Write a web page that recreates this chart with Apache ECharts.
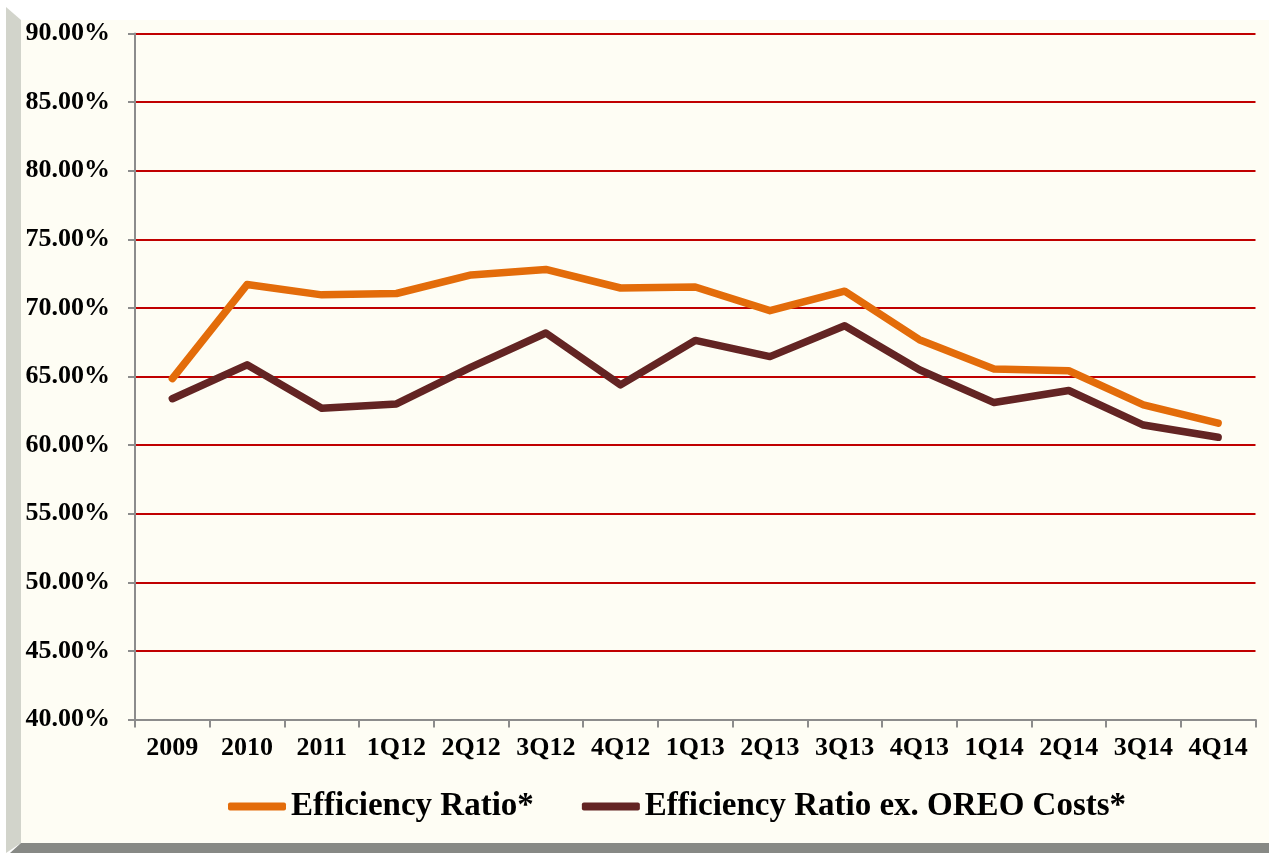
<!DOCTYPE html>
<html>
<head>
<meta charset="utf-8">
<script src="https://cdn.jsdelivr.net/npm/echarts@6/dist/echarts.min.js"></script>
<style>
  html, body { margin: 0; padding: 0; background: #ffffff; }
  #chart { width: 1269px; height: 853px; }
</style>
</head>
<body>
<div id="chart"></div>
<script>
// Periods on the category axis
const periods = ['2009', '2010', '2011', '1Q12', '2Q12', '3Q12', '4Q12', '1Q13',
  '2Q13', '3Q13', '4Q13', '1Q14', '2Q14', '3Q14', '4Q14'];

// Efficiency ratio, percent
const efficiencyRatio = [64.85, 71.70, 70.95, 71.05, 72.40, 72.80, 71.45, 71.52,
  69.80, 71.22, 67.68, 65.54, 65.42, 62.93, 61.60];

// Efficiency ratio excluding OREO costs, percent
const efficiencyRatioExOreo = [63.38, 65.85, 62.68, 63.00, 65.68, 68.17, 64.39, 67.63,
  66.45, 68.70, 65.49, 63.10, 63.98, 61.46, 60.57];

// Value axis range and step
const yMin = 40;
const yMax = 90;
const yStep = 5;

const seriesNames = ['Efficiency Ratio*', 'Efficiency Ratio ex. OREO Costs*'];

const fontFamily = '"Liberation Serif", "DejaVu Serif", serif';
const orange = '#E36C0A';
const brown = '#632423';

const chart = echarts.init(document.getElementById('chart'), null, { renderer: 'canvas' });

chart.setOption({
  backgroundColor: '#ffffff',
  animation: false,
  graphic: [
    // cream panel
    { type: 'rect', z: -10, silent: true,
      shape: { x: 21, y: 20, width: 1248, height: 823 },
      style: { fill: '#FEFDF4' } },
    // left bevelled border
    { type: 'polygon', z: -9, silent: true,
      shape: { points: [[6, 7], [21, 20], [21, 843], [6, 853]] },
      style: { fill: '#D2D4CB' } },
    // bottom bevelled border
    { type: 'polygon', z: -8, silent: true,
      shape: { points: [[21, 843], [1269, 843], [1269, 853], [10, 853]] },
      style: { fill: '#878985' } }
  ],
  grid: {
    left: 135,
    right: 13.5,
    top: 33.5,
    bottom: 133.5,
    containLabel: false
  },
  legend: {
    data: seriesNames,
    left: 223,
    top: 785,
    icon: 'roundRect',
    itemWidth: 58,
    itemHeight: 8,
    itemGap: 48,
    textStyle: {
      fontFamily: fontFamily,
      fontWeight: 'bold',
      fontSize: 33,
      color: '#000000'
    }
  },
  xAxis: {
    type: 'category',
    data: periods,
    boundaryGap: true,
    axisLine: { lineStyle: { color: '#8C8C8C', width: 2 } },
    axisTick: { show: true, length: 8, lineStyle: { color: '#8C8C8C', width: 2 } },
    axisLabel: {
      margin: 16,
      interval: 0,
      fontFamily: fontFamily,
      fontWeight: 'bold',
      fontSize: 26,
      color: '#000000'
    },
    splitLine: { show: false }
  },
  yAxis: {
    type: 'value',
    min: yMin,
    max: yMax,
    interval: yStep,
    axisLine: { show: true, lineStyle: { color: '#8C8C8C', width: 2 } },
    axisTick: { show: true, length: 7, lineStyle: { color: '#8C8C8C', width: 2 } },
    axisLabel: {
      margin: 25,
      fontFamily: fontFamily,
      fontWeight: 'bold',
      fontSize: 26,
      color: '#000000',
      formatter: v => v.toFixed(2) + '%'
    },
    splitLine: { show: true, lineStyle: { color: '#C00000', width: 2 } }
  },
  series: [
    {
      name: seriesNames[0],
      type: 'line',
      data: efficiencyRatio,
      showSymbol: false,
      symbol: 'none',
      color: orange,
      lineStyle: { color: orange, width: 7.5, cap: 'round', join: 'round' },
      z: 3
    },
    {
      name: seriesNames[1],
      type: 'line',
      data: efficiencyRatioExOreo,
      showSymbol: false,
      symbol: 'none',
      color: brown,
      lineStyle: { color: brown, width: 7.5, cap: 'round', join: 'round' },
      z: 2
    }
  ]
});
</script>
</body>
</html>
